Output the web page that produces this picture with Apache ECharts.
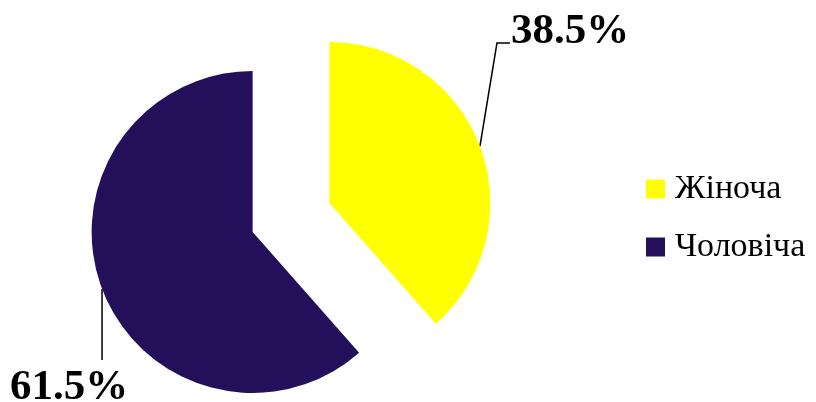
<!DOCTYPE html>
<html>
<head>
<meta charset="utf-8">
<script src="https://cdn.jsdelivr.net/npm/echarts@6/dist/echarts.min.js"></script>
<style>
  html, body { margin: 0; padding: 0; background: #fff; }
  #main { width: 816px; height: 402px; }
</style>
</head>
<body>
<div id="main"></div>
<script>
const names = ['Жіноча', 'Чоловіча'];
const values = [38.5, 61.5];
const colors = ['#ffff00', '#230f5a'];

const pieCenter = [291, 217.5];
const pieRadius = 161;
const explode = 41;

const total = values.reduce((a, b) => a + b, 0);

// each slice is pulled out along its own middle angle
function sliceCenter(i) {
  let before = 0;
  for (let j = 0; j < i; j++) before += values[j];
  const mid = (before + values[i] / 2) / total * 2 * Math.PI;
  return [pieCenter[0] + explode * Math.sin(mid), pieCenter[1] - explode * Math.cos(mid)];
}

function leaderLayout(p) {
  const pts = p.labelLinePoints;
  if (!pts) return {};
  const s = pts[0];
  if (p.dataIndex === 0) {
    const elbow = [s[0] + 17, s[1] - 103];
    const end = [elbow[0] + 13, elbow[1]];
    return { x: end[0] + 1, y: end[1] - 11, align: 'left', verticalAlign: 'middle', labelLinePoints: [s, elbow, end] };
  }
  const end = [s[0], s[1] + 71];
  return { x: end[0] - 92, y: end[1] + 28, align: 'left', verticalAlign: 'middle', labelLinePoints: [s, end, end] };
}

const series = names.map((_, i) => ({
  type: 'pie',
  center: sliceCenter(i),
  radius: pieRadius,
  silent: true,
  animation: false,
  avoidLabelOverlap: false,
  label: {
    show: true,
    position: 'outside',
    formatter: p => p.value.toFixed(1) + '%',
    fontFamily: 'Liberation Serif',
    fontWeight: 'bold',
    fontSize: 43,
    color: '#000'
  },
  labelLine: { show: true, lineStyle: { color: '#000', width: 1.5 } },
  labelLayout: leaderLayout,
  data: names.map((n, j) => j === i
    ? { name: n, value: values[j], itemStyle: { color: colors[j] } }
    : { name: n, value: values[j], itemStyle: { color: 'rgba(0,0,0,0)' }, label: { show: false }, labelLine: { show: false } })
}));

const chart = echarts.init(document.getElementById('main'));
chart.setOption({
  animation: false,
  legend: {
    orient: 'vertical',
    left: 641,
    top: 167,
    itemWidth: 19,
    itemHeight: 19,
    itemGap: 24,
    icon: 'rect',
    selectedMode: false,
    textStyle: { fontFamily: 'Liberation Serif', fontSize: 34, lineHeight: 34, color: '#000', padding: [0, 0, 0, 5] },
    data: names.map((n, i) => ({ name: n, itemStyle: { color: colors[i] } }))
  },
  series: series
});
</script>
</body>
</html>
